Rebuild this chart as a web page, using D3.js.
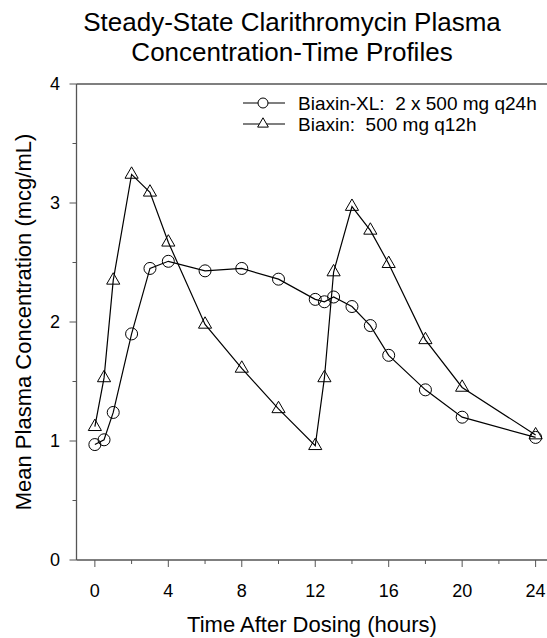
<!DOCTYPE html>
<html>
<head>
<meta charset="utf-8">
<script src="https://cdn.jsdelivr.net/npm/d3@7"></script>
<style>
  body { margin: 0; background: #fff; }
  text { font-family: "Liberation Sans", Arial, sans-serif; fill: #000; }
</style>
</head>
<body>
<svg width="547" height="638"></svg>
<script>
// hours after dosing
var xlTimes = [0, 0.5, 1, 2, 3, 4, 6, 8, 10, 12, 12.5, 13, 14, 15, 16, 18, 20, 24];
var xlConc  = [0.97, 1.01, 1.24, 1.90, 2.45, 2.51, 2.43, 2.45, 2.36, 2.19, 2.17, 2.21, 2.13, 1.97, 1.72, 1.43, 1.20, 1.03];
var irTimes = [0, 0.5, 1, 2, 3, 4, 6, 8, 10, 12, 12.5, 13, 14, 15, 16, 18, 20, 24];
var irConc  = [1.12, 1.53, 2.35, 3.24, 3.09, 2.67, 1.98, 1.61, 1.27, 0.96, 1.53, 2.42, 2.97, 2.77, 2.49, 1.85, 1.45, 1.05];
var xTicks = [0, 4, 8, 12, 16, 20, 24];
var xMinor = [2, 6, 10, 14, 18, 22];
var yTicks = [0, 1, 2, 3, 4];
var yMinor = [0.5, 1.5, 2.5, 3.5];
var legendLabels = ["Biaxin-XL:  2 x 500 mg q24h", "Biaxin:  500 mg q12h"];

var svg = d3.select("svg");
var axisColor = "#555";

var x = d3.scaleLinear().domain([-1, 24.62]).range([76.5, 547]);
var y = d3.scaleLinear().domain([0, 4]).range([560, 84]);

// title
svg.append("text").attr("x", 292).attr("y", 31).attr("text-anchor", "middle")
    .style("font-size", "26px").text("Steady-State Clarithromycin Plasma");
svg.append("text").attr("x", 292).attr("y", 61).attr("text-anchor", "middle")
    .style("font-size", "26px").text("Concentration-Time Profiles");

// frame lines
svg.append("line").attr("x1", x(-1)).attr("x2", 547).attr("y1", y(4)).attr("y2", y(4))
    .attr("stroke", axisColor).attr("stroke-width", 1.3);
svg.append("line").attr("x1", x(-1)).attr("x2", 547).attr("y1", y(0)).attr("y2", y(0))
    .attr("stroke", axisColor).attr("stroke-width", 1.3);
svg.append("line").attr("x1", x(-1)).attr("x2", x(-1)).attr("y1", y(0)).attr("y2", y(4))
    .attr("stroke", axisColor).attr("stroke-width", 1.3);

// x ticks
svg.selectAll(".xt").data(xTicks).enter().append("line")
    .attr("x1", d => x(d)).attr("x2", d => x(d)).attr("y1", y(0)).attr("y2", y(0) + 7)
    .attr("stroke", axisColor);
svg.selectAll(".xm").data(xMinor).enter().append("line")
    .attr("x1", d => x(d)).attr("x2", d => x(d)).attr("y1", y(0)).attr("y2", y(0) + 4)
    .attr("stroke", axisColor);
svg.selectAll(".xl").data(xTicks).enter().append("text")
    .attr("x", d => x(d)).attr("y", 597).attr("text-anchor", "middle")
    .style("font-size", "18px").text(d => d);

// y ticks
svg.selectAll(".yt").data(yTicks).enter().append("line")
    .attr("x1", x(-1) - 7).attr("x2", x(-1)).attr("y1", d => y(d)).attr("y2", d => y(d))
    .attr("stroke", axisColor);
svg.selectAll(".ym").data(yMinor).enter().append("line")
    .attr("x1", x(-1) - 4).attr("x2", x(-1)).attr("y1", d => y(d)).attr("y2", d => y(d))
    .attr("stroke", axisColor);
svg.selectAll(".yl").data(yTicks).enter().append("text")
    .attr("x", 55).attr("y", d => y(d) + 6).attr("text-anchor", "middle")
    .style("font-size", "18px").text(d => d);

// axis titles
svg.append("text").attr("x", 312).attr("y", 632).attr("text-anchor", "middle")
    .style("font-size", "22px").text("Time After Dosing (hours)");
svg.append("text").attr("transform", "translate(31,322) rotate(-90)").attr("text-anchor", "middle")
    .style("font-size", "22px").text("Mean Plasma Concentration (mcg/mL)");

var line = d3.line().x(d => x(d[0])).y(d => y(d[1]));
var xlData = d3.zip(xlTimes, xlConc);
var irData = d3.zip(irTimes, irConc);

svg.append("path").datum(xlData).attr("d", line)
    .attr("fill", "none").attr("stroke", "#000").attr("stroke-width", 1.2);
svg.append("path").datum(irData).attr("d", line)
    .attr("fill", "none").attr("stroke", "#000").attr("stroke-width", 1.2);

var tri = d3.symbol().type(d3.symbolTriangle).size(75);

svg.selectAll(".ptc").data(xlData).enter().append("circle")
    .attr("cx", d => x(d[0])).attr("cy", d => y(d[1])).attr("r", 6)
    .attr("fill", "none").attr("stroke", "#000").attr("stroke-width", 1);
svg.selectAll(".ptt").data(irData).enter().append("path")
    .attr("d", tri)
    .attr("transform", d => "translate(" + x(d[0]) + "," + y(d[1]) + ")")
    .attr("fill", "none").attr("stroke", "#000").attr("stroke-width", 1);

// legend
var lg = svg.selectAll(".lg").data(legendLabels).enter().append("g")
    .attr("transform", (d, i) => "translate(243," + (103 + i * 21) + ")");
lg.append("line").attr("x1", 0).attr("x2", 42).attr("stroke", "#000").attr("stroke-width", 1.2);
lg.filter((d, i) => i == 0).append("circle").attr("cx", 20).attr("r", 5)
    .attr("fill", "#fff").attr("stroke", "#000");
lg.filter((d, i) => i == 1).append("path").attr("d", d3.symbol().type(d3.symbolTriangle).size(50))
    .attr("transform", "translate(20,0)").attr("fill", "#fff").attr("stroke", "#000");
lg.append("text").attr("x", 55).attr("y", 7).style("font-size", "19px")
    .style("white-space", "pre").text(d => d);
</script>
</body>
</html>
